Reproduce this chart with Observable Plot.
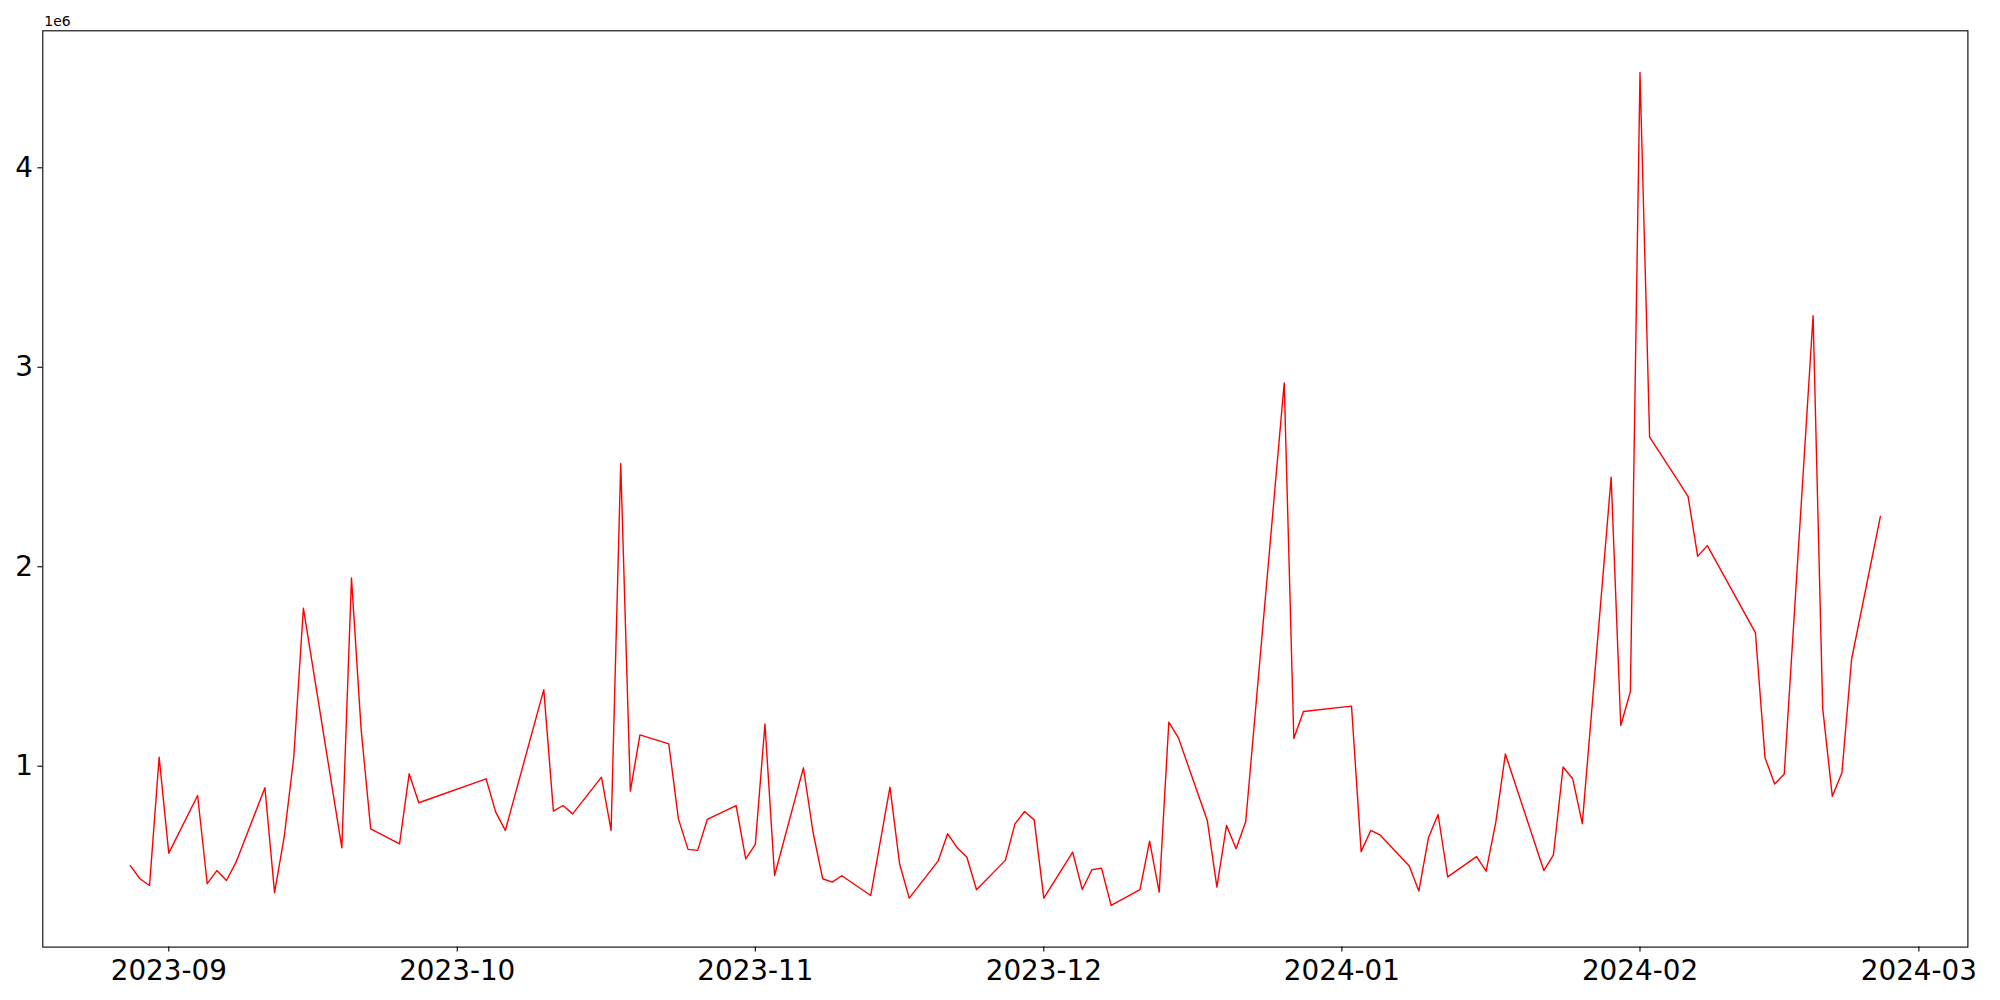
<!DOCTYPE html>
<html>
<head>
<meta charset="utf-8">
<script src="https://cdn.jsdelivr.net/npm/d3@7"></script>
<script src="https://cdn.jsdelivr.net/npm/@observablehq/plot@0.6"></script>
<style>
  html, body { margin: 0; padding: 0; background: white; }
  #chart { width: 2000px; height: 1000px; }
</style>
</head>
<body>
<div id="chart"></div>
<script>
const dates = [
  "2023-08-28","2023-08-29","2023-08-30","2023-08-31","2023-09-01",
  "2023-09-04","2023-09-05","2023-09-06","2023-09-07","2023-09-08",
  "2023-09-11","2023-09-12","2023-09-13","2023-09-14","2023-09-15",
  "2023-09-19","2023-09-20","2023-09-21","2023-09-22",
  "2023-09-25","2023-09-26","2023-09-27",
  "2023-10-04","2023-10-05","2023-10-06",
  "2023-10-10","2023-10-11","2023-10-12","2023-10-13",
  "2023-10-16","2023-10-17","2023-10-18","2023-10-19","2023-10-20",
  "2023-10-23","2023-10-24","2023-10-25","2023-10-26","2023-10-27",
  "2023-10-30","2023-10-31","2023-11-01","2023-11-02","2023-11-03",
  "2023-11-06","2023-11-07","2023-11-08","2023-11-09","2023-11-10",
  "2023-11-13","2023-11-15","2023-11-16","2023-11-17",
  "2023-11-20","2023-11-21","2023-11-22","2023-11-23","2023-11-24",
  "2023-11-27","2023-11-28","2023-11-29","2023-11-30","2023-12-01",
  "2023-12-04","2023-12-05","2023-12-06","2023-12-07","2023-12-08",
  "2023-12-11","2023-12-12","2023-12-13","2023-12-14","2023-12-15",
  "2023-12-18","2023-12-19","2023-12-20","2023-12-21","2023-12-22",
  "2023-12-26","2023-12-27","2023-12-28",
  "2024-01-02","2024-01-03","2024-01-04","2024-01-05",
  "2024-01-08","2024-01-09","2024-01-10","2024-01-11","2024-01-12",
  "2024-01-15","2024-01-16","2024-01-17","2024-01-18",
  "2024-01-22","2024-01-23","2024-01-24","2024-01-25","2024-01-26",
  "2024-01-29","2024-01-30","2024-01-31","2024-02-01","2024-02-02",
  "2024-02-05","2024-02-06","2024-02-07","2024-02-08",
  "2024-02-13","2024-02-14","2024-02-15","2024-02-16",
  "2024-02-19","2024-02-20","2024-02-21","2024-02-22","2024-02-23",
  "2024-02-26"
];
const volumes = [
  502000, 436000, 402000, 1045000, 564000,
  853000, 411000, 477000, 427000, 519000,
  892000, 366000, 644000, 1045000, 1792000,
  591000, 1944000, 1187000, 686000,
  611000, 962000, 817000,
  937000, 770000, 678000,
  1384000, 775000, 803000, 761000,
  945000, 678000, 2518000, 875000, 1157000,
  1112000, 736000, 583000, 578000, 733000,
  803000, 536000, 608000, 1212000, 452000,
  992000, 669000, 436000, 419000, 451000,
  352000, 895000, 511000, 339000,
  524000, 661000, 591000, 544000, 381000,
  528000, 711000, 773000, 731000, 339000,
  569000, 382000, 481000, 489000, 302000,
  381000, 624000, 369000, 1221000, 1142000,
  728000, 394000, 703000, 586000, 723000,
  2922000, 1139000, 1274000,
  1301000, 572000, 678000, 654000,
  500000, 374000, 641000, 758000, 445000,
  547000, 474000, 718000, 1061000,
  477000, 556000, 996000, 937000, 712000,
  2449000, 1204000, 1374000, 4478000, 2650000,
  2428000, 2352000, 2052000, 2106000,
  1670000, 1043000, 911000, 961000,
  3258000, 1290000, 849000, 967000, 1535000,
  2252000
];
const xTickDates = ["2023-09-01","2023-10-01","2023-11-01","2023-12-01","2024-01-01","2024-02-01","2024-03-01"];
const yTicks = [1000000, 2000000, 3000000, 4000000];
const offsetLabel = ["1e6"];

const data = dates.map((d, i) => ({date: new Date(d), value: volumes[i]}));

const t0 = +new Date(dates[0]), t1 = +new Date(dates[dates.length - 1]);
const tp = 0.05 * (t1 - t0);
const vmin = d3.min(volumes), vmax = d3.max(volumes);
const vp = 0.05 * (vmax - vmin);

const chart = Plot.plot({
  width: 2000,
  height: 1000,
  marginLeft: 42.3,
  marginRight: 32.6,
  marginTop: 30.3,
  marginBottom: 53.4,
  style: {fontFamily: "DejaVu Sans", fontSize: "27.8px", background: "white", color: "black", overflow: "visible"},
  x: {type: "utc", domain: [new Date(t0 - tp), new Date(t1 + tp)]},
  y: {domain: [vmin - vp, vmax + vp]},
  marks: [
    Plot.line(data, {x: "date", y: "value", stroke: "red", strokeWidth: 1.4}),
    Plot.frame({stroke: "black", strokeWidth: 1.1}),
    Plot.axisX({
      ticks: xTickDates.map(d => new Date(d)),
      tickFormat: d3.utcFormat("%Y-%m"),
      tickSize: 4.9, tickPadding: 8, label: null, fontSize: 27.8, strokeWidth: 1.1
    }),
    Plot.axisY({
      ticks: yTicks,
      tickFormat: d => String(d / 1e6),
      tickSize: 4.9, tickPadding: 5, label: null, fontSize: 27.8, strokeWidth: 1.1
    }),
    Plot.text(offsetLabel, {
      text: d => d, frameAnchor: "top-left", textAnchor: "start", lineAnchor: "bottom",
      dx: 1.5, dy: -5, fontSize: 13.9, fill: "black"
    })
  ]
});
document.getElementById("chart").appendChild(chart);
</script>
</body>
</html>
